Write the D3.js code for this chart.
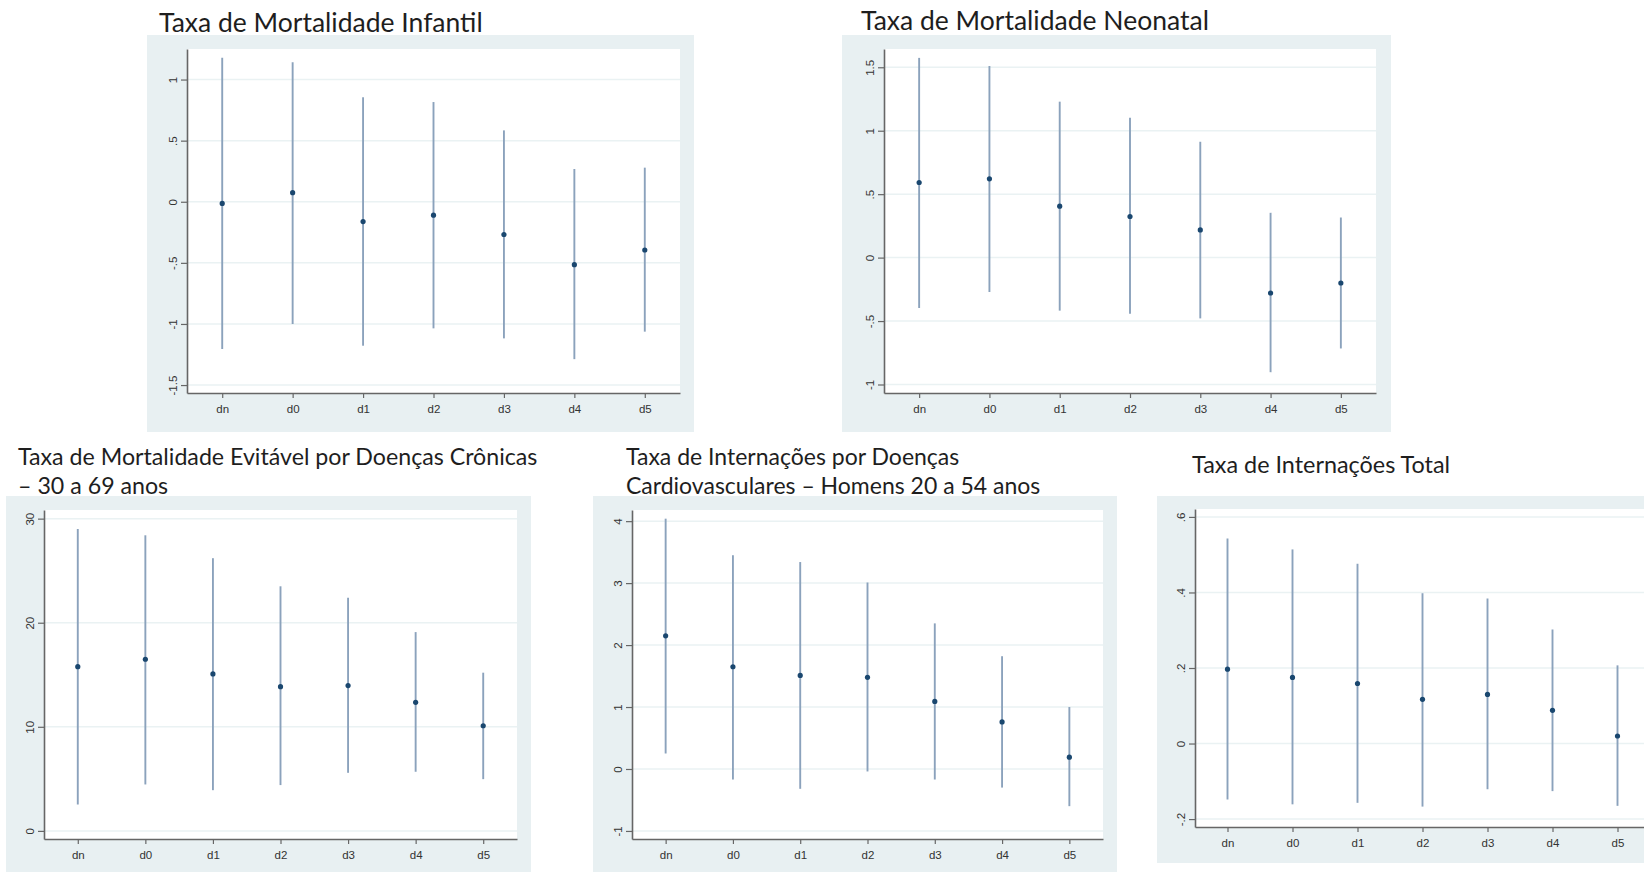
<!DOCTYPE html>
<html>
<head>
<meta charset="utf-8">
<script src="https://cdn.jsdelivr.net/npm/d3@7"></script>
<style>
body { margin: 0; background: #ffffff; }
</style>
</head>
<body>
<div id="viz-container"></div>
<script>
// categories on the x axis (same for every panel)
let categories = ["dn", "d0", "d1", "d2", "d3", "d4", "d5"];

// Taxa de Mortalidade Infantil
let infantilCoef = [-0.014, 0.074, -0.162, -0.110, -0.268, -0.515, -0.395];
let infantilLow = [-1.205, -1.000, -1.178, -1.036, -1.118, -1.288, -1.063];
let infantilHigh = [1.178, 1.142, 0.855, 0.816, 0.584, 0.268, 0.279];
let infantilTicks = [-1.5, -1, -0.5, 0, 0.5, 1];
let infantilTickLabels = ["-1.5", "-1", "-.5", "0", ".5", "1"];

// Taxa de Mortalidade Neonatal
let neonatalCoef = [0.592, 0.621, 0.405, 0.324, 0.218, -0.279, -0.200];
let neonatalLow = [-0.397, -0.271, -0.418, -0.442, -0.479, -0.903, -0.716];
let neonatalHigh = [1.574, 1.510, 1.229, 1.103, 0.913, 0.353, 0.316];
let neonatalTicks = [-1, -0.5, 0, 0.5, 1, 1.5];
let neonatalTickLabels = ["-1", "-.5", "0", ".5", "1", "1.5"];

// Taxa de Mortalidade Evitavel por Doencas Cronicas
let evitavelCoef = [15.78, 16.49, 15.08, 13.86, 13.96, 12.35, 10.10];
let evitavelLow = [2.53, 4.46, 3.91, 4.40, 5.58, 5.68, 4.97];
let evitavelHigh = [29.0, 28.4, 26.2, 23.5, 22.4, 19.1, 15.2];
let evitavelTicks = [0, 10, 20, 30];
let evitavelTickLabels = ["0", "10", "20", "30"];

// Taxa de Internacoes por Doencas Cardiovasculares
let cardioCoef = [2.15, 1.65, 1.51, 1.48, 1.09, 0.76, 0.19];
let cardioLow = [0.25, -0.17, -0.32, -0.04, -0.17, -0.30, -0.60];
let cardioHigh = [4.04, 3.45, 3.34, 3.01, 2.35, 1.82, 1.00];
let cardioTicks = [-1, 0, 1, 2, 3, 4];
let cardioTickLabels = ["-1", "0", "1", "2", "3", "4"];

// Taxa de Internacoes Total
let totalCoef = [0.197, 0.175, 0.159, 0.117, 0.130, 0.088, 0.020];
let totalLow = [-0.148, -0.161, -0.157, -0.167, -0.121, -0.126, -0.165];
let totalHigh = [0.543, 0.514, 0.476, 0.398, 0.384, 0.302, 0.207];
let totalTicks = [-0.2, 0, 0.2, 0.4, 0.6];
let totalTickLabels = ["-.2", "0", ".2", ".4", ".6"];

//svg canvas
let viz = d3.select("#viz-container")
                .append("svg")
                    .attr("id", "viz")
                    .attr("width", 1644)
                    .attr("height", 872)
                    .style("display", "block")
;

// panel layout: box = grey region, plot = axes area
let panels = [
    {coef: infantilCoef, low: infantilLow, high: infantilHigh, ticks: infantilTicks, labels: infantilTickLabels,
     box: [147, 35, 694, 432], plot: [187, 49, 680, 393], yDomain: [-1.565, 1.25],
     title: [{t: "Taxa de Mortalidade Infantil", x: 159, y: 31.5, size: 26.5}]},
    {coef: neonatalCoef, low: neonatalLow, high: neonatalHigh, ticks: neonatalTicks, labels: neonatalTickLabels,
     box: [842, 35, 1391, 432], plot: [884, 49, 1376, 393], yDomain: [-1.067, 1.644],
     title: [{t: "Taxa de Mortalidade Neonatal", x: 861, y: 29.5, size: 26.5}]},
    {coef: evitavelCoef, low: evitavelLow, high: evitavelHigh, ticks: evitavelTicks, labels: evitavelTickLabels,
     box: [6, 496, 531, 872], plot: [44, 510, 517, 839], yDomain: [-0.78, 30.83],
     title: [{t: "Taxa de Mortalidade Evitável por Doenças Crônicas", x: 18, y: 464.5, size: 23.2},
             {t: "– 30 a 69 anos", x: 18, y: 494, size: 23.2}]},
    {coef: cardioCoef, low: cardioLow, high: cardioHigh, ticks: cardioTicks, labels: cardioTickLabels,
     box: [593, 496, 1117, 872], plot: [632, 510, 1103, 839], yDomain: [-1.13, 4.18],
     title: [{t: "Taxa de Internações por Doenças", x: 626, y: 464.5, size: 23},
             {t: "Cardiovasculares – Homens 20 a 54 anos", x: 626, y: 494, size: 23}]},
    {coef: totalCoef, low: totalLow, high: totalHigh, ticks: totalTicks, labels: totalTickLabels,
     box: [1157, 496, 1670, 863], plot: [1195, 509, 1650, 827], yDomain: [-0.221, 0.621],
     title: [{t: "Taxa de Internações Total", x: 1192, y: 473, size: 23.4}]}
];

function drawPanel(p){
    let g = viz.append("g");

    // grey graph region
    g.append("rect")
        .attr("x", p.box[0]).attr("y", p.box[1])
        .attr("width", p.box[2] - p.box[0]).attr("height", p.box[3] - p.box[1])
        .attr("fill", "#e8f0f2");

    // white plot region
    g.append("rect")
        .attr("x", p.plot[0]).attr("y", p.plot[1])
        .attr("width", p.plot[2] - p.plot[0]).attr("height", p.plot[3] - p.plot[1])
        .attr("fill", "#ffffff");

    let x = d3.scalePoint().domain(categories).range([p.plot[0], p.plot[2]]).padding(0.5);
    let y = d3.scaleLinear().domain(p.yDomain).range([p.plot[3], p.plot[1]]);

    // grid lines
    g.selectAll(".grid").data(p.ticks).enter().append("line")
        .attr("x1", p.plot[0]).attr("x2", p.plot[2])
        .attr("y1", d => y(d)).attr("y2", d => y(d))
        .attr("stroke", "#eaf2f3")
        .attr("stroke-width", 1.5);

    let rows = categories.map((c, i) => ({cat: c, coef: p.coef[i], low: p.low[i], high: p.high[i]}));

    // confidence intervals
    g.selectAll(".ci").data(rows).enter().append("line")
        .attr("x1", d => x(d.cat)).attr("x2", d => x(d.cat))
        .attr("y1", d => y(d.low)).attr("y2", d => y(d.high))
        .attr("stroke", "#8ba2bc")
        .attr("stroke-width", 1.9);

    // point estimates
    g.selectAll(".pt").data(rows).enter().append("circle")
        .attr("cx", d => x(d.cat))
        .attr("cy", d => y(d.coef))
        .attr("r", 2.6)
        .attr("fill", "#1a476f");

    // y axis
    let yAxis = g.append("g")
        .attr("transform", "translate(" + p.plot[0] + ",0)")
        .call(d3.axisLeft(y).tickValues(p.ticks).tickFormat((d, i) => p.labels[i]).tickSize(6).tickSizeOuter(0));
    yAxis.selectAll("text")
        .attr("x", null).attr("dy", null)
        .attr("text-anchor", "middle")
        .attr("transform", "translate(-10.5,0) rotate(-90)");

    // x axis
    let xAxis = g.append("g")
        .attr("transform", "translate(0," + p.plot[3] + ")")
        .call(d3.axisBottom(x).tickSize(5).tickPadding(7).tickSizeOuter(0));

    [yAxis, xAxis].forEach(a => {
        a.select(".domain").attr("stroke", "#666666").attr("stroke-width", 1.6);
        a.selectAll(".tick line").attr("stroke", "#666666").attr("stroke-width", 1.2);
        a.selectAll("text")
            .attr("fill", "#333333")
            .style("font-family", "'Liberation Sans', Arial, sans-serif")
            .style("font-size", "11.5px");
    });

    // title
    g.selectAll(".title").data(p.title).enter().append("text")
        .attr("x", d => d.x).attr("y", d => d.y)
        .text(d => d.t)
        .attr("fill", "#1e1e1e")
        .style("font-family", "Lato, 'Open Sans', sans-serif")
        .style("font-size", d => d.size + "px");
}

panels.forEach(drawPanel);
</script>
</body>
</html>
